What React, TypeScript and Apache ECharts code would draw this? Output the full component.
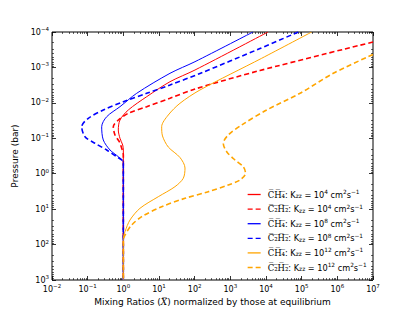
import React, { useEffect, useRef } from 'react';
import * as echarts from 'echarts';

// Axis ranges
const X_MIN = 1e-2;
const X_MAX = 1e7;
const P_MIN = 1e-4;
const P_MAX = 1e3;

// Curves, stored as log10 of pressure (bar) and log10 of the normalized mixing ratio
const ch4K4LogP = [-4, -2.927, -2.597, -2.174, -1.798, -1.516, -1.234, -1.0, -0.811, -0.669, 3];
const ch4K4LogX = [4.056, 2.009, 1.308, 0.655, 0.139, -0.094, -0.141, -0.094, -0.018, 0, 0];

const c2h2K4LogP = [-3.718, -2.913, -2.391, -2.129, -1.892, -1.705, -1.516, -1.327, -1.093, -0.904, -0.717, -0.528, 3];
const c2h2K4LogX = [7.0, 3.831, 2.009, 1.308, 0.655, 0.139, -0.141, -0.281, -0.234, -0.113, -0.046, 0, 0];

const ch4K8LogP = [-4, -3.162, -2.834, -2.27, -1.892, -1.609, -1.327, -0.952, -0.67, -0.48, -0.331, 3];
const ch4K8LogX = [3.635, 2.009, 1.308, 0.375, -0.094, -0.466, -0.607, -0.562, -0.374, -0.141, 0, 0];

const c2h2K8LogP = [-4, -3.534, -2.829, -2.504, -2.27, -2.033, -1.798, -1.564, -1.327, -1.045, -0.859, -0.67, -0.48, -0.387, -0.3, 3];
const c2h2K8LogX = [4.905, 3.831, 2.149, 1.308, 0.655, 0.0, -0.562, -0.982, -1.167, -1.075, -0.795, -0.466, -0.186, -0.046, 0, 0];

const ch4K12LogP = [-4, -3.258, -2.363, -1.988, -1.657, -1.327, -1.065, -0.754, -0.458, -0.161, 0.129, 0.366, 0.649, 0.976, 1.306, 1.636, 1.823, 3];
const ch4K12LogX = [5.281, 3.879, 2.149, 1.588, 1.26, 1.075, 1.098, 1.26, 1.588, 1.729, 1.681, 1.448, 0.98, 0.467, 0.187, 0.047, 0, 0];

const c2h2K12LogP = [-3.365, -2.834, -2.27, -1.798, -1.375, -1.093, -0.859, -0.622, -0.387, -0.198, -0.012, 0.177, 0.318, 0.507, 0.694, 0.931, 1.213, 1.447, 1.73, 1.871, 3];
const c2h2K12LogX = [7.0, 5.886, 4.953, 4.019, 3.318, 2.943, 2.802, 2.898, 3.13, 3.363, 3.425, 3.271, 2.943, 2.382, 1.729, 1.075, 0.515, 0.234, 0.047, 0, 0];

// Legend labels
const seriesNames = ['CH4 Kzz=1e4', 'C2H2 Kzz=1e4', 'CH4 Kzz=1e8', 'C2H2 Kzz=1e8', 'CH4 Kzz=1e12', 'C2H2 Kzz=1e12'];
const speciesLabels = ['C\u0305H\u0305\u2084\u0305', 'C\u0305\u2082\u0305H\u0305\u2082\u0305', 'C\u0305H\u0305\u2084\u0305', 'C\u0305\u2082\u0305H\u0305\u2082\u0305', 'C\u0305H\u0305\u2084\u0305', 'C\u0305\u2082\u0305H\u0305\u2082\u0305'];
const kzzExponents = ['4', '4', '8', '8', '12', '12'];

function minorValues(lo: number, hi: number): number[] {
  const out: number[] = [];
  for (let e = lo; e < hi; e++) {
    for (let k = 2; k <= 9; k++) out.push(k * Math.pow(10, e));
  }
  return out;
}

function toPairs(logP: number[], logX: number[]): number[][] {
  return logP.map((p, i) => [Math.pow(10, logX[i]), Math.pow(10, p)]);
}

function expLabel(v: number): string {
  const e = Math.round(Math.log10(v));
  const s = e < 0 ? '\u2212' + (-e) : String(e);
  return '{b|10}{s|' + s + '}';
}

const tickRich = {
  b: { fontSize: 8, fontFamily: 'DejaVu Sans', color: '#000' },
  s: { fontSize: 5.5, fontFamily: 'DejaVu Sans', color: '#000', padding: [0, 0, 6, 0] },
};

export default function App() {
  const ref = useRef<HTMLDivElement>(null);
  useEffect(() => {
    if (!ref.current) return;
    const chart = echarts.init(ref.current, undefined, { renderer: 'svg' });

    const colors = ['#ff0000', '#ff0000', '#0000ff', '#0000ff', '#ffa500', '#ffa500'];
    const dashed = [false, true, false, true, false, true];
    const curves = [
      toPairs(ch4K4LogP, ch4K4LogX),
      toPairs(c2h2K4LogP, c2h2K4LogX),
      toPairs(ch4K8LogP, ch4K8LogX),
      toPairs(c2h2K8LogP, c2h2K8LogX),
      toPairs(ch4K12LogP, ch4K12LogX),
      toPairs(c2h2K12LogP, c2h2K12LogX),
    ];

    const legendText: Record<string, string> = {};
    seriesNames.forEach((n, i) => {
      legendText[n] =
        '{c|' + speciesLabels[i] + '}{t|: K}{sub|zz}{t| = 10}{sup|' + kzzExponents[i] + '}{t| cm}{sup|2}{t|s}{sup|\u22121}';
    });

    const baseX = { type: 'log', min: X_MIN, max: X_MAX, logBase: 10, gridIndex: 0 };
    const baseY = { type: 'log', min: P_MIN, max: P_MAX, logBase: 10, gridIndex: 0, inverse: true };
    const noLine = { show: false };
    const noSplit = { show: false };

    const option: any = {
      animation: false,
      backgroundColor: '#fff',
      textStyle: { fontFamily: 'DejaVu Sans' },
      grid: {
        left: 52, right: 42, top: 32, bottom: 32,
        show: true, borderColor: '#000', borderWidth: 1, backgroundColor: 'transparent',
      },
      xAxis: [
        {
          ...baseX, position: 'bottom', splitNumber: 10,
          axisLine: noLine, splitLine: noSplit,
          axisTick: { show: true, inside: true, length: 4, lineStyle: { color: '#000', width: 0.8 } },
          axisLabel: { show: true, margin: 3, formatter: expLabel, rich: tickRich, showMinLabel: true, showMaxLabel: true },
          name: '{t|Mixing Ratios (}{it|X\u0305}{t|) normalized by those at equilibrium}',
          nameLocation: 'middle', nameGap: 15,
          nameTextStyle: {
            rich: {
              t: { fontSize: 9, color: '#000', fontFamily: 'DejaVu Sans' },
              it: { fontSize: 9, color: '#000', fontFamily: 'DejaVu Serif', fontStyle: 'italic' },
            },
          },
        },
        {
          ...baseX, position: 'bottom',
          axisLine: noLine, splitLine: noSplit, axisLabel: { show: false },
          axisTick: { show: true, inside: true, length: 2, customValues: minorValues(-2, 7), lineStyle: { color: '#000', width: 0.6 } },
        },
        {
          ...baseX, position: 'top', splitNumber: 10,
          axisLine: noLine, splitLine: noSplit, axisLabel: { show: false },
          axisTick: { show: true, inside: true, length: 4, lineStyle: { color: '#000', width: 0.8 } },
        },
        {
          ...baseX, position: 'top',
          axisLine: noLine, splitLine: noSplit, axisLabel: { show: false },
          axisTick: { show: true, inside: true, length: 2, customValues: minorValues(-2, 7), lineStyle: { color: '#000', width: 0.6 } },
        },
      ],
      yAxis: [
        {
          ...baseY, position: 'left', splitNumber: 10,
          axisLine: noLine, splitLine: noSplit,
          axisTick: { show: true, inside: true, length: 4, lineStyle: { color: '#000', width: 0.8 } },
          axisLabel: { show: true, margin: 3, formatter: expLabel, rich: tickRich, showMinLabel: true, showMaxLabel: true },
          name: 'Pressure (bar)', nameLocation: 'middle', nameGap: 30,
          nameTextStyle: { fontSize: 9, color: '#000', fontFamily: 'DejaVu Sans' },
        },
        {
          ...baseY, position: 'left',
          axisLine: noLine, splitLine: noSplit, axisLabel: { show: false },
          axisTick: { show: true, inside: true, length: 2, customValues: minorValues(-4, 3), lineStyle: { color: '#000', width: 0.6 } },
        },
        {
          ...baseY, position: 'right', splitNumber: 10,
          axisLine: noLine, splitLine: noSplit, axisLabel: { show: false },
          axisTick: { show: true, inside: true, length: 4, lineStyle: { color: '#000', width: 0.8 } },
        },
        {
          ...baseY, position: 'right',
          axisLine: noLine, splitLine: noSplit, axisLabel: { show: false },
          axisTick: { show: true, inside: true, length: 2, customValues: minorValues(-4, 3), lineStyle: { color: '#000', width: 0.6 } },
        },
      ],
      legend: {
        orient: 'vertical', left: 242, top: 184,
        itemWidth: 13, itemHeight: 8, itemGap: 4.6,
        data: seriesNames,
        formatter: (n: string) => legendText[n],
        itemStyle: { color: 'rgba(0,0,0,0)', borderWidth: 0, opacity: 0 },
        lineStyle: { width: 1.3 },
        textStyle: {
          color: '#000', fontSize: 8.2,
          rich: {
            c: { fontSize: 8.5, fontFamily: 'DejaVu Serif', color: '#000', padding: [0, 0, 0, 2] },
            t: { fontSize: 8.2, fontFamily: 'DejaVu Sans', color: '#000' },
            sub: { fontSize: 5.8, fontFamily: 'DejaVu Sans', color: '#000', padding: [3, 0, 0, 0] },
            sup: { fontSize: 5.8, fontFamily: 'DejaVu Sans', color: '#000', padding: [0, 0, 5, 0] },
          },
        },
      },
      series: seriesNames.map((n, i) => ({
        name: n,
        type: 'line',
        xAxisIndex: 0,
        yAxisIndex: 0,
        data: curves[i],
        symbol: 'none',
        showSymbol: false,
        smooth: 0.3,
        clip: true,
        itemStyle: { color: colors[i] },
        lineStyle: {
          color: colors[i],
          width: dashed[i] ? 1.6 : 1.0,
          type: dashed[i] ? [5, 3] : 'solid',
        },
        z: 2 + i,
      })),
    };

    chart.setOption(option);
    return () => chart.dispose();
  }, []);

  return (
    <div
      ref={ref}
      style={{ position: 'absolute', left: 0, top: 0, width: 415, height: 312, background: '#fff' }}
    />
  );
}
